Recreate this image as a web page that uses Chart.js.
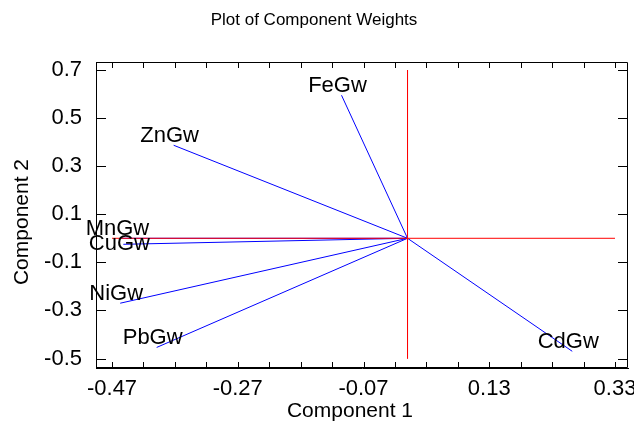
<!DOCTYPE html>
<html>
<head>
<meta charset="utf-8">
<script src="https://cdn.jsdelivr.net/npm/chart.js@4.4.1/dist/chart.umd.min.js"></script>
<style>
  html, body { margin: 0; padding: 0; background: #ffffff; }
  #wrap { width: 634px; height: 427px; }
</style>
</head>
<body>
<div id="wrap"><canvas id="c" width="634" height="427"></canvas></div>
<script>
// ---- data ----
const variableNames = ['FeGw', 'ZnGw', 'MnGw', 'CuGw', 'NiGw', 'PbGw', 'CdGw'];
const component1 = [-0.105, -0.372, -0.455, -0.452, -0.457, -0.399, 0.262];
const component2 = [0.595, 0.387, 0.000, -0.025, -0.270, -0.454, -0.470];
const xTickValues = [-0.47, -0.42, -0.37, -0.32, -0.27, -0.22, -0.17, -0.12, -0.07,
                     -0.02, 0.03, 0.08, 0.13, 0.18, 0.23, 0.28, 0.33];
const xTickLabels = ['-0.47', '-0.27', '-0.07', '0.13', '0.33'];
const yTickValues = [-0.5, -0.3, -0.1, 0.1, 0.3, 0.5, 0.7];
const yTickLabels = ['-0.5', '-0.3', '-0.1', '0.1', '0.3', '0.5', '0.7'];
const xAxisLine = [-0.47, 0.33];
const yAxisLine = [-0.5, 0.7];
const chartTitle = 'Plot of Component Weights';
const xTitle = 'Component 1';
const yTitle = 'Component 2';

const FONT = "'Liberation Sans', Arial, sans-serif";

function labelForX(v) {
  for (const s of xTickLabels) { if (Math.abs(parseFloat(s) - v) < 1e-6) return s; }
  return '';
}
function labelForY(v) {
  for (const s of yTickLabels) { if (Math.abs(parseFloat(s) - v) < 1e-6) return s; }
  return '';
}

const datasets = [];
// reference axes (red) drawn on top
datasets.push({
  data: [{x: xAxisLine[0], y: 0}, {x: xAxisLine[1], y: 0}],
  showLine: true, borderColor: '#ff0000', borderWidth: 1, pointRadius: 0, order: 0
});
datasets.push({
  data: [{x: 0, y: yAxisLine[1]}, {x: 0, y: yAxisLine[0]}],
  showLine: true, borderColor: '#ff0000', borderWidth: 1, pointRadius: 0, order: 0
});
for (let i = 0; i < variableNames.length; i++) {
  datasets.push({
    label: variableNames[i],
    data: [{x: 0, y: 0}, {x: component1[i], y: component2[i]}],
    showLine: true, borderColor: '#0000ff', borderWidth: 1, pointRadius: 0, order: 1
  });
}

const inwardTicks = {
  id: 'inwardTicks',
  afterDraw(chart) {
    const {ctx, chartArea: a, scales: {x, y}} = chart;
    ctx.save();
    ctx.strokeStyle = '#000000';
    ctx.lineWidth = 1;
    ctx.beginPath();
    ctx.rect(Math.round(a.left) + 0.5, Math.round(a.top) + 0.5,
             Math.round(a.right - a.left) - 1, Math.round(a.bottom - a.top) - 1);
    for (const t of x.ticks) {
      const px = Math.round(x.getPixelForValue(t.value)) + 0.5;
      ctx.moveTo(px, a.bottom); ctx.lineTo(px, a.bottom - 6);
      ctx.moveTo(px, a.top); ctx.lineTo(px, a.top + 6);
    }
    for (const t of y.ticks) {
      const py = Math.round(y.getPixelForValue(t.value)) + 0.5;
      ctx.moveTo(a.left, py); ctx.lineTo(a.left + 10, py);
      ctx.moveTo(a.right, py); ctx.lineTo(a.right - 10, py);
    }
    ctx.stroke();

    // axis titles
    ctx.fillStyle = '#000000';
    ctx.font = '21px ' + FONT;
    ctx.textAlign = 'center';
    ctx.textBaseline = 'middle';
    ctx.fillText(xTitle, (a.left + a.right) / 2 - 12, 411);
    ctx.translate(22, (a.top + a.bottom) / 2 + 7);
    ctx.rotate(-Math.PI / 2);
    ctx.fillText(yTitle, 0, 0);
    ctx.restore();
  }
};

const pointLabels = {
  id: 'pointLabels',
  afterDatasetsDraw(chart) {
    const {ctx, scales: {x, y}} = chart;
    ctx.save();
    ctx.font = '22px ' + FONT;
    ctx.fillStyle = '#000000';
    ctx.textAlign = 'center';
    ctx.textBaseline = 'alphabetic';
    const cap = 15;
    const placed = [];
    for (let i = 0; i < variableNames.length; i++) {
      const px = x.getPixelForValue(component1[i]) - 4;
      let base = y.getPixelForValue(component2[i]) - 3;
      const w = ctx.measureText(variableNames[i]).width;
      for (const b of placed) {
        const overlapX = Math.abs(b.x - px) < (b.w + w) / 2;
        const overlapY = base > b.base - cap && base - cap < b.base;
        if (overlapX && overlapY) base = b.base + cap;
      }
      placed.push({x: px, w: w, base: base});
      ctx.fillText(variableNames[i], px, base);
    }
    ctx.restore();
  }
};

new Chart(document.getElementById('c'), {
  type: 'scatter',
  data: { datasets: datasets },
  options: {
    responsive: false,
    animation: false,
    devicePixelRatio: 1,
    layout: { padding: { left: 0, right: 6, top: 0, bottom: 0 } },
    plugins: {
      legend: { display: false },
      tooltip: { enabled: false },
      title: {
        display: true,
        text: chartTitle,
        color: '#000000',
        font: { family: FONT, size: 17, weight: 'normal' },
        padding: { top: 10, bottom: 31.6 }
      }
    },
    scales: {
      x: {
        type: 'linear',
        min: -0.4955, max: 0.3507,
        afterBuildTicks(s) { s.ticks = xTickValues.map(v => ({value: v})); },
        afterFit(s) { s.height = 59; s.paddingLeft = 0; s.paddingRight = 0; },
        grid: { display: true, drawOnChartArea: false, drawTicks: false },
        border: { display: true, color: '#000000', width: 1 },
        ticks: {
          autoSkip: false, maxRotation: 0, minRotation: 0, padding: 8,
          color: '#000000', font: { family: FONT, size: 22 },
          callback: (v) => labelForX(v)
        },
        title: { display: false }
      },
      y: {
        type: 'linear',
        min: -0.5395, max: 0.7333,
        afterBuildTicks(s) { s.ticks = yTickValues.map(v => ({value: v})); },
        afterFit(s) { s.width = 96; s.paddingTop = 0; s.paddingBottom = 0; },
        grid: { display: true, drawOnChartArea: false, drawTicks: false },
        border: { display: true, color: '#000000', width: 1 },
        ticks: {
          autoSkip: false, padding: 14,
          color: '#000000', font: { family: FONT, size: 22 },
          callback: (v) => labelForY(v)
        },
        title: { display: false }
      }
    }
  },
  plugins: [inwardTicks, pointLabels]
});
</script>
</body>
</html>
